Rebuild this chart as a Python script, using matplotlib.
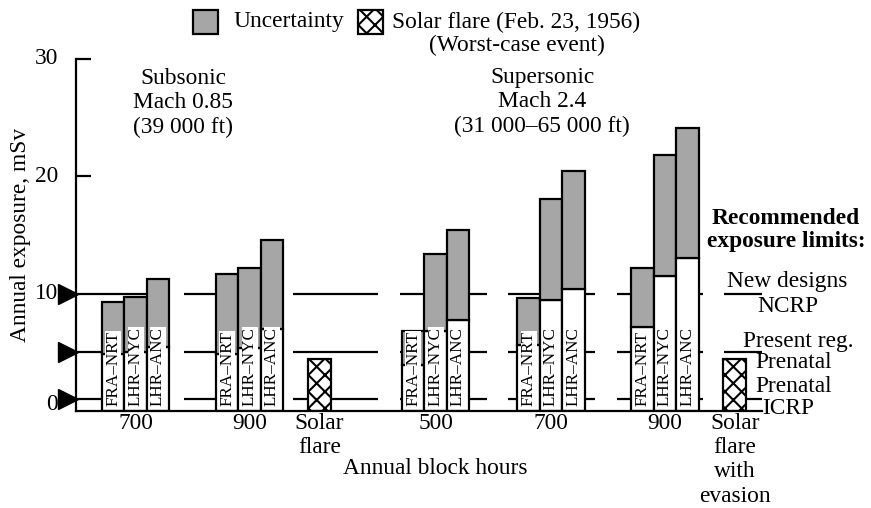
import matplotlib
matplotlib.use("Agg")
import matplotlib.pyplot as plt
from matplotlib.patches import Rectangle

plt.rcParams['font.family'] = ['Liberation Serif', 'DejaVu Serif']
plt.rcParams['hatch.linewidth'] = 1.5

# ---------------- data ----------------
routes = ["FRA\u2013NRT", "LHR\u2013NYC", "LHR\u2013ANC"]
group_labels = ["700", "900", "500", "700", "900"]
totals = [
    [9.28, 9.70, 11.23],    # subsonic 700
    [11.69, 12.17, 14.55],  # subsonic 900
    [6.81, 13.36, 15.40],   # supersonic 500
    [9.59, 18.07, 20.48],   # supersonic 700
    [12.20, 21.79, 24.14],  # supersonic 900
]
baselines = [
    [4.82, 5.02, 5.47],
    [4.90, 5.33, 6.95],
    [3.89, 6.81, 7.74],
    [5.62, 9.47, 10.41],
    [7.12, 11.52, 13.00],
]
flare_labels = ["Solar\nflare", "Solar\nflare\nwith\nevasion"]
flare_values = [4.42, 4.42]
limit_values = [10, 5, 1]
ytick_values = [0, 10, 20, 30]

# ---------------- layout (pixel units along x) ----------------
W, H = 871, 508
group_x = [135.5, 249.5, 435.5, 551.0, 665.0]
flare_x = [319.4, 734.7]
bar_w = 22.4
seg = [(76, 169), (184, 283), (293, 378), (400, 487), (508, 595), (617, 703), (724, 762)]
GRAY = "#a6a6a6"
LW = 1.6
FS = 16.8
LS = 1.2

fig = plt.figure(figsize=(W / 100, H / 100), dpi=100)
ax = fig.add_axes([76 / W, (H - 411) / H, (762 - 76) / W, (411 - 59) / H])
ax.set_xlim(76, 762)
ax.set_ylim(0, 30)
for s in ["top", "right"]:
    ax.spines[s].set_visible(False)
ax.spines["left"].set_linewidth(LW)
ax.spines["bottom"].set_linewidth(LW)
ax.spines["left"].set_bounds(0, 30)
ax.set_xticks([])
ax.set_yticks([20, 30])
ax.set_yticklabels([])
ax.tick_params(axis="y", direction="in", length=11, width=LW)
ax.patch.set_alpha(0)

# limit lines
for v in limit_values:
    for a, b in seg:
        ax.plot([a, b], [v, v], color="black", lw=LW, zorder=1, solid_capstyle="butt")
    ax.plot([67.5], [v], marker=">", markersize=14, color="black", clip_on=False, zorder=5)

# route bars
for gx, tots, bases in zip(group_x, totals, baselines):
    for i, (t, b) in enumerate(zip(tots, bases)):
        x = gx + (i - 1) * bar_w
        ax.bar(x, b, width=bar_w, bottom=0, color="white", edgecolor="black", lw=LW, zorder=2)
        ax.bar(x, t - b, width=bar_w, bottom=b, color=GRAY, edgecolor="black", lw=LW, zorder=2)
        ax.text(x, 0.4, routes[i], rotation=90, ha="center", va="bottom", fontsize=12.3,
                zorder=4, bbox=dict(facecolor="white", edgecolor="none", pad=0.0))

# solar flare bars
for fx, fv in zip(flare_x, flare_values):
    ax.bar(fx, fv, width=bar_w + 1, color="white", edgecolor="black", lw=LW, hatch="xx", zorder=2)

# ---------------- text overlay in pixel coords ----------------
ov = fig.add_axes([0, 0, 1, 1])
ov.set_xlim(0, W)
ov.set_ylim(H, 0)
ov.axis("off")
ov.patch.set_alpha(0)

def ypx(v):
    return 411 - v * (411 - 59) / 30

for v in ytick_values:
    yy = ypx(v) if v else 405
    ov.text(58, yy, str(v), ha="right", va="center", fontsize=FS)

ov.text(21, 235, "Annual exposure, mSv", rotation=90, ha="center", va="center", fontsize=FS)

for gx, lab in zip(group_x, group_labels):
    ov.text(gx, 413, lab, ha="center", va="top", fontsize=FS, linespacing=LS)
for fx, lab in zip(flare_x, flare_labels):
    ov.text(fx, 413, lab, ha="center", va="top", fontsize=FS, linespacing=LS)
ov.text(435, 468, "Annual block hours", ha="center", va="center", fontsize=FS)

ov.text(183, 103, "Subsonic\nMach 0.85\n(39 000 ft)", ha="center", va="center", fontsize=FS, linespacing=LS)
ov.text(542, 102, "Supersonic\nMach 2.4\n(31 000\u201365 000 ft)", ha="center", va="center", fontsize=FS, linespacing=LS)

ov.text(786, 230, "Recommended\nexposure limits:", ha="center", va="center", fontsize=FS,
        fontweight="bold", linespacing=1.15)
ov.text(787, 282, "New designs", ha="center", va="center", fontsize=FS)
ov.text(788, 307, "NCRP", ha="center", va="center", fontsize=FS)
ov.text(798, 342, "Present reg.", ha="center", va="center", fontsize=FS)
ov.text(755, 362, "Prenatal", ha="left", va="center", fontsize=FS)
ov.text(755, 387, "Prenatal", ha="left", va="center", fontsize=FS)
ov.text(762, 408, "ICRP", ha="left", va="center", fontsize=FS)

# legend
ov.add_patch(Rectangle((193, 10), 25, 24, facecolor=GRAY, edgecolor="black", lw=LW))
ov.text(233, 22, "Uncertainty", ha="left", va="center", fontsize=FS)
ov.add_patch(Rectangle((358, 10), 25, 24, facecolor="white", edgecolor="black", lw=LW, hatch="xx"))
ov.text(392, 22, "Solar flare (Feb. 23, 1956)", ha="left", va="center", fontsize=FS)
ov.text(517, 45, "(Worst-case event)", ha="center", va="center", fontsize=FS)

fig.savefig("out.png", dpi=100)
